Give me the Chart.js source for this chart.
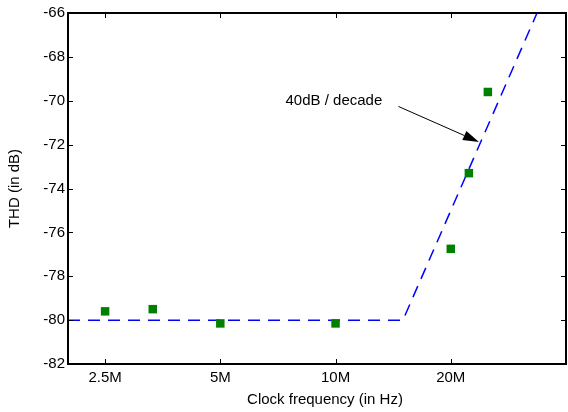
<!DOCTYPE html>
<html>
<head>
<meta charset="utf-8">
<script src="https://cdn.jsdelivr.net/npm/chart.js@4.4.0/dist/chart.umd.min.js"></script>
<style>
html, body { margin: 0; padding: 0; background: #fff; overflow: hidden; }
</style>
</head>
<body>
<canvas id="chart" width="572" height="412"></canvas>
<script>
// measured THD vs clock frequency (MHz)
var freqMHz = [2.5, 3.33, 5, 10, 20, 22.3, 25];
var thdDb = [-79.6, -79.5, -80.15, -80.15, -76.75, -73.3, -69.6];
// asymptote: flat then 40dB/decade
var fitFreqMHz = [2, 15, 33.6];
var fitDb = [-80, -80, -66];
var xTickMHz = [2.5, 5, 10, 20];
var yTicks = [-82, -80, -78, -76, -74, -72, -70, -68, -66];

var font = 'Liberation Sans, Arial, sans-serif';

function pairs(xs, ys) {
	var out = [];
	for (var i = 0; i < xs.length; i++) out.push({ x: xs[i], y: ys[i] });
	return out;
}

// border box, inward ticks, x title and the arrow note
var framePlugin = {
	id: 'frame',
	afterDraw: function(chart) {
		var c = chart.ctx;
		var a = chart.chartArea;
		var xs = chart.scales.x;
		var ys = chart.scales.y;
		c.save();
		c.strokeStyle = '#000';
		c.lineWidth = 1;
		c.beginPath();
		xTickMHz.forEach(function(v) {
			var px = Math.round(xs.getPixelForValue(v)) + 0.5;
			c.moveTo(px, a.bottom); c.lineTo(px, a.bottom - 5);
			c.moveTo(px, a.top); c.lineTo(px, a.top + 5);
		});
		yTicks.forEach(function(v) {
			var py = Math.round(ys.getPixelForValue(v)) + 0.5;
			c.moveTo(a.left, py); c.lineTo(a.left + 5, py);
			c.moveTo(a.right, py); c.lineTo(a.right - 5, py);
		});
		c.stroke();
		c.lineWidth = 2;
		c.strokeRect(a.left, a.top, a.right - a.left, a.bottom - a.top);

		// annotation
		var x0 = xs.getPixelForValue(14.6), y0 = ys.getPixelForValue(-70.26);
		var x1 = xs.getPixelForValue(23.7), y1 = ys.getPixelForValue(-71.88);
		var ang = Math.atan2(y1 - y0, x1 - x0);
		var hl = 16, hw = 5;
		var bx = x1 - hl * Math.cos(ang), by = y1 - hl * Math.sin(ang);
		c.lineWidth = 1;
		c.beginPath();
		c.moveTo(x0, y0); c.lineTo(bx, by);
		c.stroke();
		c.fillStyle = '#000';
		c.beginPath();
		c.moveTo(x1, y1);
		c.lineTo(bx + hw * Math.sin(ang), by - hw * Math.cos(ang));
		c.lineTo(bx - hw * Math.sin(ang), by + hw * Math.cos(ang));
		c.closePath();
		c.fill();
		c.font = '15px ' + font;
		c.textAlign = 'center';
		c.textBaseline = 'middle';
		c.fillText('40dB / decade', xs.getPixelForValue(9.9), ys.getPixelForValue(-70));
		// x axis title, sits a bit right of centre like the original
		c.fillText('Clock frequency (in Hz)', (a.left + a.right) / 2 + 8, a.bottom + 36);
		c.restore();
	}
};

var ctx = document.getElementById('chart');
var chart = new Chart(ctx, {
	type: 'scatter',
	data: {
		datasets: [
			{
				data: pairs(fitFreqMHz, fitDb),
				showLine: true,
				borderColor: '#0000FF',
				borderWidth: 1.5,
				borderDash: [12, 8],
				pointRadius: 0,
				fill: false,
				order: 2
			},
			{
				data: pairs(freqMHz, thdDb),
				pointStyle: 'rect',
				pointRadius: 6,
				backgroundColor: '#008000',
				borderColor: '#008000',
				borderWidth: 0,
				order: 1
			}
		]
	},
	options: {
		responsive: false,
		animation: false,
		layout: { padding: { left: 0, right: 3, top: 13, bottom: 0 } },
		plugins: { legend: { display: false }, tooltip: { enabled: false } },
		scales: {
			x: {
				type: 'logarithmic',
				min: 2,
				max: 40,
				grid: { display: false, drawTicks: false, tickLength: 0 },
				border: { display: false },
				afterBuildTicks: function(s) {
					s.ticks = xTickMHz.map(function(v) { return { value: v }; });
				},
				afterFit: function(s) { s.height = 48; },
				ticks: {
					color: '#000',
					font: { family: font, size: 15 },
					padding: 5,
					maxRotation: 0,
					autoSkip: false,
					callback: function(v) { return v + 'M'; }
				}
			},
			y: {
				min: -82,
				max: -66,
				grid: { display: false, drawTicks: false, tickLength: 0 },
				border: { display: false },
				afterBuildTicks: function(s) {
					s.ticks = yTicks.map(function(v) { return { value: v }; });
				},
				afterFit: function(s) { s.width = 68; },
				ticks: {
					color: '#000',
					font: { family: font, size: 15 },
					padding: 3
				},
				title: {
					display: true,
					text: 'THD (in dB)',
					color: '#000',
					font: { family: font, size: 15 },
					padding: { top: 6, bottom: 0 }
				}
			}
		}
	},
	plugins: [framePlugin]
});
</script>
</body>
</html>
